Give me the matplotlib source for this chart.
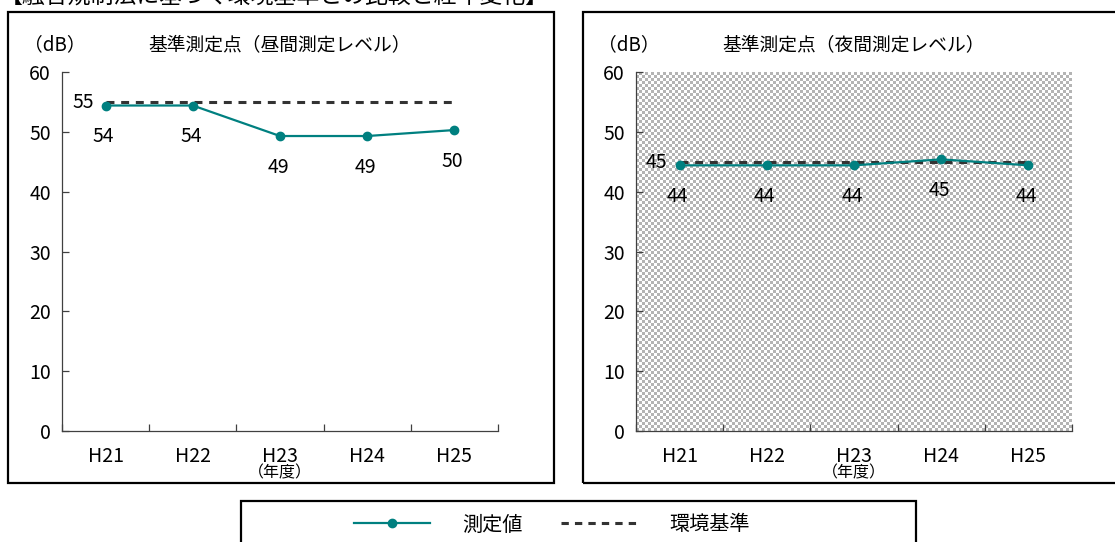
import numpy as np
import matplotlib.pyplot as plt
from matplotlib.patches import Rectangle
from matplotlib.lines import Line2D
from matplotlib.colors import ListedColormap

plt.rcParams['font.family'] = ['Noto Sans CJK JP', 'DejaVu Sans']

# data
years = ['H21', 'H22', 'H23', 'H24', 'H25']
day_level = [54.4, 54.4, 49.3, 49.3, 50.3]
day_standard = [55, 55, 55, 55, 55]
night_level = [44.4, 44.4, 44.4, 45.4, 44.4]
night_standard = [45, 45, 45, 45, 45]
titles = ['基準測定点（昼間測定レベル）', '基準測定点（夜間測定レベル）']
top_title = '【騒音規制法に基づく環境基準との比較と経年変化】'

W, H = 1115, 542
teal = '#008080'
axis_col = '#404040'

fig = plt.figure(figsize=(W/100, H/100), dpi=100)

# panel frames and legend frame
for x0, y0, w, h in [(8, 12, 546, 471), (583, 12, 600, 471), (241, 501, 675, 60)]:
    fig.patches.append(Rectangle((x0/W, 1-(y0+h)/H), w/W, h/H, fill=False,
                                 lw=1.6, ec='black', transform=fig.transFigure))

# heading above the panels, mostly cut off by the top edge as in the source
fig.text(0, 1-4/H, top_title, fontsize=16.5, ha='left', va='baseline')

panels = [
    (62, day_level, day_standard, titles[0], False),
    (636, night_level, night_standard, titles[1], True),
]

x = np.arange(len(years))
for left, level, std, title, shaded in panels:
    ax = fig.add_axes([left/W, 1-431/H, 436/W, 359/H])
    if shaded:
        ny, nx = 120, 146
        board = np.add.outer(np.arange(ny), np.arange(nx)) % 2
        ax.imshow(board, cmap=ListedColormap(['white', '#b4b4b4']),
                  extent=(-0.5, 4.5, 0, 60), aspect='auto',
                  interpolation='nearest', zorder=0)
    ax.plot(x, std, color='#333333', lw=2.2, dashes=(2.6, 2.2), zorder=2)
    ax.plot(x, level, color=teal, lw=1.6, marker='o', ms=6, zorder=3)

    ax.annotate(f'{std[0]:.0f}', (x[0], std[0]), xytext=(-12, -1),
                textcoords='offset pixels', ha='right', va='center', fontsize=14)
    for xi, v in zip(x, level):
        ax.annotate(f'{v:.0f}', (xi, v), xytext=(-2, -31),
                    textcoords='offset pixels', ha='center', va='center', fontsize=14)

    ax.set_xlim(-0.5, 4.5)
    ax.set_ylim(0, 60)
    ax.set_yticks(range(0, 61, 10))
    ax.set_xticks(np.arange(-0.5, 5, 1))
    ax.set_xticklabels([])
    ax.set_xticks(x, minor=True)
    ax.set_xticklabels(years, minor=True)
    ax.tick_params(which='major', direction='in', length=5, width=0.9,
                   color=axis_col, labelsize=14, pad=8)
    ax.tick_params(axis='x', which='minor', length=0, labelsize=14, pad=11)
    for s in ['top', 'right']:
        ax.spines[s].set_visible(False)
    for s in ['left', 'bottom']:
        ax.spines[s].set_color(axis_col)
        ax.spines[s].set_linewidth(0.9)

    cx = (left + 218) / W
    fig.text(cx, 1-45/H, title, fontsize=13.5, ha='center', va='center')
    fig.text((left-38)/W, 1-45/H, '（dB）', fontsize=13.5, ha='left', va='center')
    fig.text(cx, 1-473/H, '（年度）', fontsize=11.5, ha='center', va='center')

handles = [
    Line2D([], [], color=teal, lw=1.6, marker='o', ms=6),
    Line2D([], [], color='#333333', lw=2.2, dashes=(2.4, 2.0)),
]
fig.legend(handles, ['測定値', '環境基準'], loc='center',
           bbox_to_anchor=(552/W, 1-525/H), ncol=2, frameon=False,
           fontsize=14.5, handlelength=3.8, handletextpad=1.6, columnspacing=1.9)

fig.savefig('out.png', dpi=100)
